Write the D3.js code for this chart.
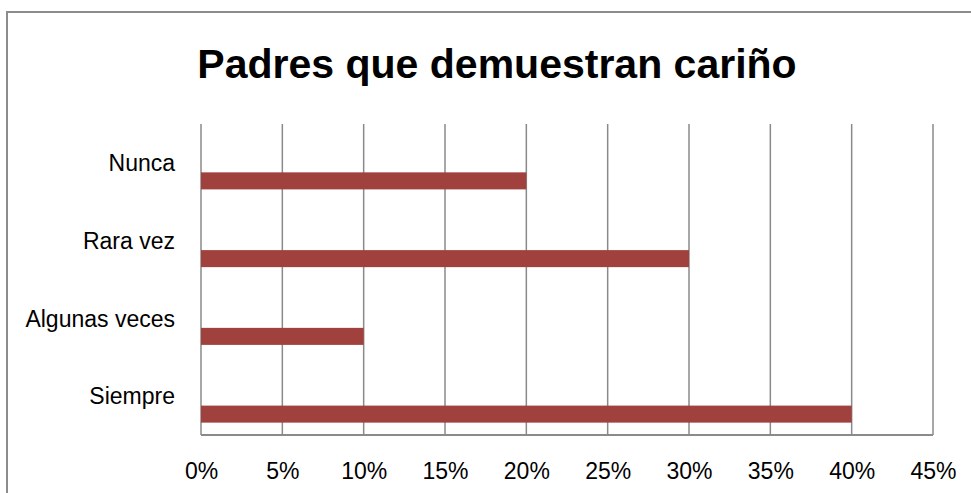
<!DOCTYPE html>
<html>
<head>
<meta charset="utf-8">
<script src="https://cdn.jsdelivr.net/npm/d3@7"></script>
<style>
  body { margin: 0; background: #fff; }
  text { font-family: "Liberation Sans", Arial, sans-serif; fill: #000; }
</style>
</head>
<body>
<div class="canvas"></div>
<script>
// data
const categories = ["Nunca", "Rara vez", "Algunas veces", "Siempre"];
const values = [0.20, 0.30, 0.10, 0.40];
const tickValues = [0, 0.05, 0.10, 0.15, 0.20, 0.25, 0.30, 0.35, 0.40, 0.45];
const title = "Padres que demuestran cariño";

const width = 971;
const height = 493;
const margins = { top: 124, right: 38, bottom: 58, left: 201 };
const graphWidth = width - margins.left - margins.right;
const graphHeight = height - margins.top - margins.bottom;
const labelFont = "'Liberation Sans', Arial, sans-serif";

const svg = d3
  .select(".canvas")
  .append("svg")
  .attr("width", width)
  .attr("height", height);

// outer chart border
svg
  .append("rect")
  .attr("x", 7)
  .attr("y", 12)
  .attr("width", width)
  .attr("height", height)
  .attr("fill", "none")
  .attr("stroke", "#8c8c8c")
  .attr("stroke-width", 2);

// title
svg
  .append("text")
  .attr("x", 497)
  .attr("y", 78)
  .attr("text-anchor", "middle")
  .style("font-size", "41px")
  .style("font-weight", "bold")
  .text(title);

const graph = svg
  .append("g")
  .attr("transform", `translate(${margins.left}, ${margins.top})`);

// scales
const x = d3.scaleLinear().domain([0, 0.45]).range([0, graphWidth]);
const y = d3.scaleBand().domain(categories).range([0, graphHeight]);

// grid lines
graph
  .append("g")
  .selectAll("line")
  .data(tickValues)
  .join("line")
  .attr("x1", (d) => x(d))
  .attr("x2", (d) => x(d))
  .attr("y1", 0)
  .attr("y2", graphHeight)
  .attr("stroke", "#8a8a8a")
  .attr("stroke-width", 1.5);

// bottom axis line
graph
  .append("line")
  .attr("x1", 0)
  .attr("x2", graphWidth)
  .attr("y1", graphHeight)
  .attr("y2", graphHeight)
  .attr("stroke", "#8a8a8a")
  .attr("stroke-width", 2);

// bars
graph
  .append("g")
  .selectAll("rect")
  .data(categories)
  .join("rect")
  .attr("x", x(0))
  .attr("y", (d) => y(d) + y.bandwidth() * 0.622)
  .attr("width", (d, i) => x(values[i]) - x(0))
  .attr("height", y.bandwidth() * 0.219)
  .attr("fill", "#a0413e");

// x axis
const xAxisGroup = graph
  .append("g")
  .attr("transform", `translate(0, ${graphHeight})`)
  .call(
    d3
      .axisBottom(x)
      .tickValues(tickValues)
      .tickFormat(d3.format(".0%"))
      .tickSize(0)
      .tickPadding(28)
  );
xAxisGroup.select(".domain").remove();
xAxisGroup
  .selectAll("text")
  .style("font-size", "23px")
  .style("font-family", labelFont)
  .attr("fill", "#000");

// y axis
const yAxisGroup = graph.append("g").call(d3.axisLeft(y).tickSize(0).tickPadding(26));
yAxisGroup.select(".domain").remove();
yAxisGroup
  .selectAll("text")
  .style("font-size", "23px")
  .style("font-family", labelFont)
  .attr("fill", "#000")
  .attr("dy", "0.36em");
</script>
</body>
</html>
